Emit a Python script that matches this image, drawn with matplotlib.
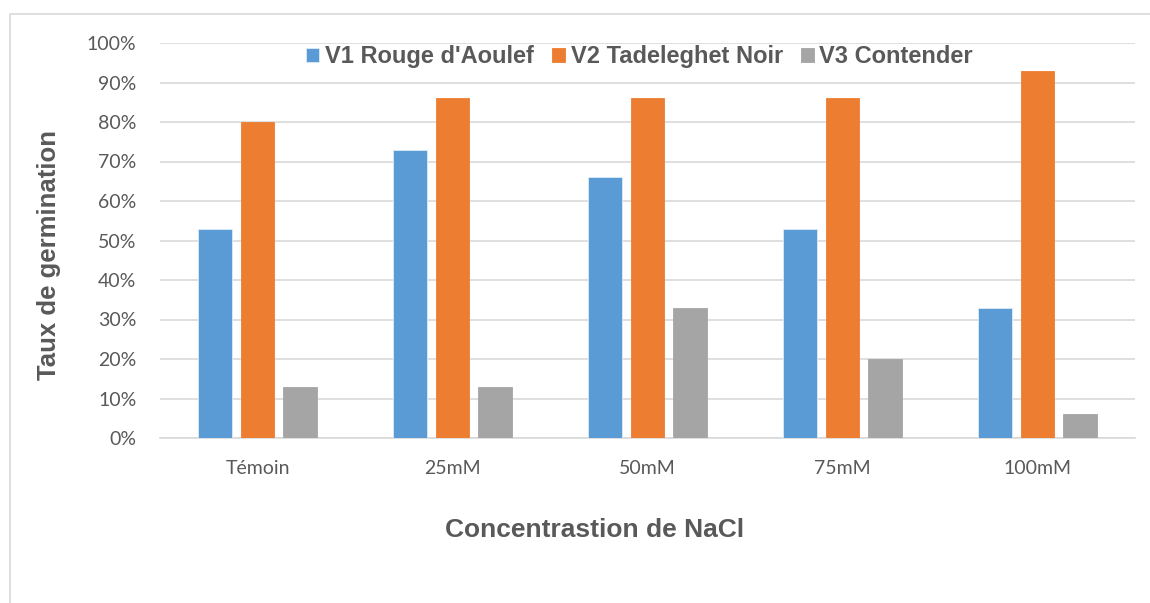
import numpy as np
import matplotlib.pyplot as plt
from matplotlib.patches import Rectangle

categories = ["Témoin", "25mM", "50mM", "75mM", "100mM"]
v1_rouge = [53, 73, 66, 53, 33]
v2_tadeleghet = [80, 86, 86, 86, 93]
v3_contender = [13, 13, 33, 20, 6]
series_names = ["V1 Rouge d'Aoulef", "V2 Tadeleghet Noir", "V3 Contender"]
colors = ["#5B9BD5", "#ED7D31", "#A5A5A5"]

text_grey = "#595959"
narrow = ["Lato", "DejaVu Sans"]
bold = ["Liberation Sans", "DejaVu Sans"]

W, H = 1150, 603
fig = plt.figure(figsize=(W / 100, H / 100), dpi=100)
# light outer frame of the chart area (cut off at right / bottom)
fig.patches.append(Rectangle((10 / W, -0.01), 1.02, 1 - 14 / H + 0.01,
                             transform=fig.transFigure, fill=False,
                             edgecolor="#D9D9D9", lw=1.2))

ax = fig.add_axes([160 / W, (H - 438) / H, (1135 - 160) / W, (438 - 43) / H])

x = np.arange(len(categories))
width = 0.174
step = 0.22
for i, (vals, name, c) in enumerate(zip([v1_rouge, v2_tadeleghet, v3_contender],
                                         series_names, colors)):
    ax.bar(x + (i - 1) * step, vals, width, color=c, label=name, zorder=3,
           edgecolor="#DDEBF7" if i == 0 else c, linewidth=0.6)

ax.set_xlim(-0.5, len(categories) - 0.5)
ax.set_ylim(0, 100)
ax.set_yticks(np.arange(0, 101, 10))
ax.set_yticklabels([f"{v}%" for v in range(0, 101, 10)],
                   family=narrow, fontsize=14, color=text_grey)
ax.set_xticks(x)
ax.set_xticklabels(categories, family=narrow, fontsize=14, color=text_grey)
ax.tick_params(axis="both", length=0)
ax.tick_params(axis="y", pad=17)
ax.tick_params(axis="x", pad=16)

ax.grid(axis="y", color="#D9D9D9", lw=1.2, zorder=0)
for s in ["top", "right", "left"]:
    ax.spines[s].set_visible(False)
ax.spines["bottom"].set_color("#D9D9D9")
ax.spines["bottom"].set_linewidth(1.2)

ax.set_ylabel("Taux de germination", family=bold, fontsize=18.5,
              fontweight="bold", color=text_grey, va="center")
ax.yaxis.set_label_coords(-0.114, 0.463)
ax.set_xlabel("Concentrastion de NaCl", family=bold, fontsize=19,
              fontweight="bold", color=text_grey, va="center")
ax.xaxis.set_label_coords(0.446, -0.233)

leg = ax.legend(loc="center", bbox_to_anchor=(0.492, 0.965), ncol=3,
                frameon=False, handlelength=0.55, handleheight=0.55,
                handletextpad=0.25, columnspacing=0.75, borderpad=0,
                prop={"family": bold, "size": 17, "weight": "bold"})
for t in leg.get_texts():
    t.set_color(text_grey)

fig.savefig("out.png", dpi=100, facecolor="white")
